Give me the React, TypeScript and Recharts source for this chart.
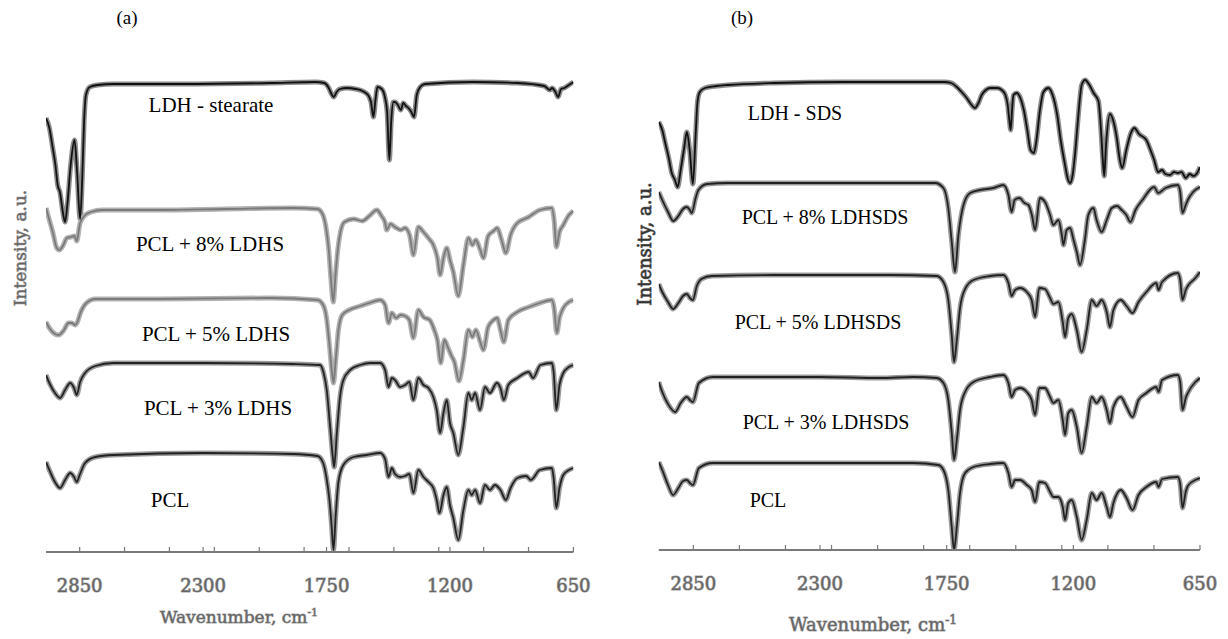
import React from "react";
import { LineChart, Line, XAxis, YAxis } from "recharts";

// FTIR spectra of PCL / LDH nanocomposites, two panels.
// points are [wavenumber cm-1, intensity a.u.].
type Pt = [number, number];

const A_LDH_STEARATE: Pt[] = [
  [3000, 434], [2985, 424], [2970, 404], [2958, 387], [2948, 367], [2938, 360],
  [2925, 340], [2915, 330], [2905, 347], [2890, 387], [2873, 412], [2862, 382],
  [2848, 333], [2838, 377], [2830, 432], [2822, 457], [2805, 465], [2770, 467],
  [2700, 468], [2400, 468], [2000, 469], [1800, 470], [1760, 469], [1740, 464],
  [1728, 458], [1718, 455], [1705, 460], [1690, 463], [1660, 464], [1620, 463],
  [1590, 461], [1565, 457], [1552, 450], [1541, 435], [1532, 452], [1523, 465],
  [1504, 463], [1490, 455], [1480, 440], [1470, 392], [1462, 430], [1452, 450],
  [1445, 450], [1432, 447], [1419, 442], [1408, 449], [1396, 446], [1385, 444],
  [1372, 440], [1360, 435], [1348, 457], [1333, 465], [1311, 468], [1100, 470],
  [900, 469], [780, 466], [755, 462], [745, 464], [730, 460], [718, 455],
  [705, 463], [690, 464], [670, 467], [650, 470],
];

const A_PCL_8: Pt[] = [
  [3000, 344], [2985, 332], [2970, 320], [2952, 304], [2940, 302], [2925, 306],
  [2907, 314], [2890, 315], [2873, 316], [2863, 311], [2848, 329], [2825, 337],
  [2800, 340], [2750, 342], [2500, 342], [2200, 343], [1900, 344], [1790, 343],
  [1768, 338], [1752, 324], [1740, 302], [1730, 272], [1720, 250], [1710, 277],
  [1700, 302], [1688, 320], [1670, 330], [1630, 333], [1590, 331], [1560, 336],
  [1526, 342], [1505, 336], [1490, 330], [1482, 322], [1465, 328], [1445, 325],
  [1420, 322], [1400, 324], [1380, 317], [1363, 297], [1341, 325], [1318, 320],
  [1296, 314], [1274, 307], [1256, 294], [1244, 277], [1229, 294], [1214, 304],
  [1200, 292], [1185, 280], [1163, 256], [1140, 287], [1118, 314], [1100, 307],
  [1085, 312], [1065, 302], [1051, 294], [1030, 316], [1006, 321], [990, 324],
  [970, 312], [951, 299], [930, 317], [900, 329], [849, 335], [800, 342],
  [746, 344], [736, 332], [726, 305], [712, 320], [695, 327], [670, 337],
  [650, 341],
];

const A_PCL_5: Pt[] = [
  [3000, 230], [2985, 224], [2960, 218], [2944, 217], [2920, 222], [2900, 229],
  [2885, 229], [2870, 227], [2860, 230], [2845, 240], [2820, 249], [2780, 253],
  [2500, 253], [2000, 254], [1790, 252], [1765, 247], [1750, 234], [1737, 207],
  [1727, 182], [1719, 169], [1709, 192], [1697, 222], [1680, 237], [1650, 242],
  [1600, 246], [1560, 249], [1511, 252], [1489, 247], [1474, 229], [1459, 239],
  [1440, 234], [1420, 237], [1400, 236], [1381, 232], [1363, 214], [1341, 242],
  [1318, 235], [1290, 232], [1270, 222], [1256, 212], [1241, 189], [1225, 212],
  [1210, 205], [1195, 197], [1180, 190], [1160, 171], [1140, 192], [1118, 222],
  [1100, 215], [1085, 222], [1065, 210], [1051, 202], [1030, 225], [1006, 232],
  [990, 234], [975, 222], [960, 210], [940, 232], [900, 240], [849, 245],
  [800, 249], [746, 252], [736, 244], [724, 219], [712, 234], [695, 244],
  [670, 250], [650, 252],
];

const A_PCL_3: Pt[] = [
  [3000, 177], [2985, 169], [2960, 159], [2937, 154], [2915, 162], [2892, 169],
  [2875, 164], [2863, 157], [2848, 170], [2826, 179], [2780, 186], [2700, 189],
  [2300, 189], [1900, 188], [1779, 187], [1764, 180], [1749, 162], [1734, 125],
  [1722, 95], [1716, 85], [1704, 119], [1690, 155], [1675, 172], [1645, 182],
  [1600, 187], [1556, 189], [1511, 189], [1489, 182], [1474, 165], [1459, 174],
  [1445, 172], [1422, 165], [1400, 167], [1381, 170], [1363, 152], [1341, 174],
  [1318, 167], [1296, 164], [1274, 155], [1259, 142], [1244, 119], [1229, 139],
  [1214, 152], [1200, 129], [1185, 119], [1163, 97], [1140, 125], [1118, 159],
  [1103, 152], [1088, 159], [1066, 142], [1044, 165], [1022, 159], [991, 169],
  [975, 164], [960, 152], [940, 167], [900, 174], [849, 180], [830, 174],
  [797, 187], [746, 189], [738, 180], [726, 142], [712, 167], [695, 179],
  [670, 185], [650, 187],
];

const A_PCL: Pt[] = [
  [3000, 90], [2985, 82], [2960, 70], [2937, 64], [2915, 72], [2892, 79],
  [2875, 75], [2863, 70], [2850, 77], [2826, 89], [2780, 95], [2700, 97],
  [2300, 99], [1900, 98], [1790, 96], [1765, 89], [1750, 74], [1737, 52],
  [1727, 25], [1719, 2], [1709, 37], [1697, 70], [1675, 87], [1630, 95],
  [1571, 97], [1511, 99], [1489, 93], [1474, 75], [1459, 84], [1445, 78],
  [1422, 75], [1400, 76], [1381, 78], [1363, 59], [1341, 82], [1318, 75],
  [1296, 70], [1274, 64], [1259, 52], [1247, 39], [1229, 57], [1214, 65],
  [1200, 47], [1185, 34], [1163, 12], [1140, 42], [1118, 62], [1103, 57],
  [1088, 62], [1066, 49], [1044, 67], [1022, 62], [1000, 67], [975, 62],
  [951, 52], [930, 64], [900, 74], [860, 76], [840, 72], [800, 82],
  [746, 84], [738, 74], [726, 44], [712, 64], [695, 77], [670, 82], [650, 84],
];

const B_LDH_SDS: Pt[] = [
  [3000, 428], [2985, 420], [2973, 408], [2955, 390], [2945, 378], [2930, 370],
  [2918, 363], [2905, 380], [2890, 402], [2878, 418], [2866, 400], [2852, 366],
  [2840, 415], [2832, 448], [2822, 458], [2800, 462], [2750, 464], [2700, 465],
  [2500, 467], [2200, 468], [1900, 468], [1760, 468], [1730, 467], [1706, 463],
  [1685, 458], [1663, 452], [1645, 446], [1627, 442], [1612, 447], [1598, 455],
  [1580, 460], [1562, 462], [1530, 462], [1511, 460], [1495, 455], [1485, 445],
  [1478, 430], [1472, 420], [1466, 440], [1460, 455], [1446, 457], [1430, 452],
  [1415, 440], [1400, 420], [1386, 400], [1371, 397], [1360, 410], [1345, 440],
  [1330, 458], [1308, 462], [1290, 455], [1270, 435], [1255, 410], [1236, 385],
  [1225, 372], [1214, 367], [1203, 375], [1193, 395], [1180, 430], [1170, 455],
  [1164, 465], [1149, 470], [1130, 465], [1112, 457], [1091, 449], [1080, 420],
  [1072, 390], [1066, 374], [1058, 405], [1041, 436], [1025, 428], [1012, 413],
  [998, 390], [988, 382], [970, 400], [950, 417], [935, 422], [915, 416],
  [883, 410], [865, 400], [849, 390], [832, 378], [815, 380], [800, 376],
  [780, 375], [763, 378], [746, 377], [730, 378], [712, 372], [695, 376],
  [678, 374], [665, 376], [650, 383],
];

const B_PCL_8: Pt[] = [
  [3000, 358], [2985, 350], [2960, 338], [2937, 329], [2915, 334], [2895, 341],
  [2879, 343], [2865, 340], [2857, 337], [2840, 352], [2828, 360], [2790, 366],
  [2700, 367], [2200, 367], [1800, 367], [1764, 362], [1743, 342], [1728, 308],
  [1714, 278], [1699, 315], [1677, 345], [1648, 357], [1605, 360], [1547, 362],
  [1504, 365], [1482, 355], [1468, 338], [1455, 350], [1434, 352], [1412, 347],
  [1395, 345], [1380, 335], [1366, 320], [1345, 352], [1323, 348], [1301, 335],
  [1287, 325], [1265, 330], [1250, 315], [1243, 305], [1229, 320], [1214, 322],
  [1199, 310], [1185, 298], [1171, 285], [1150, 310], [1135, 335], [1113, 342],
  [1099, 330], [1077, 318], [1055, 330], [1033, 342], [1010, 344], [990, 340],
  [970, 335], [952, 328], [930, 340], [900, 350], [849, 363], [832, 357],
  [800, 362], [746, 365], [736, 358], [726, 337], [712, 345], [703, 350],
  [680, 358], [650, 363],
];

const B_PCL_5: Pt[] = [
  [3000, 266], [2985, 258], [2960, 248], [2938, 241], [2915, 247], [2895, 254],
  [2878, 256], [2865, 252], [2852, 250], [2835, 264], [2815, 271], [2770, 274],
  [2500, 275], [2000, 275], [1793, 274], [1764, 268], [1743, 250], [1728, 215],
  [1718, 188], [1706, 210], [1692, 242], [1670, 261], [1634, 270], [1562, 274],
  [1504, 275], [1482, 267], [1468, 254], [1453, 260], [1431, 262], [1402, 258],
  [1381, 250], [1366, 233], [1348, 262], [1323, 261], [1301, 252], [1287, 246],
  [1265, 248], [1246, 228], [1236, 213], [1222, 232], [1207, 236], [1185, 220],
  [1164, 198], [1142, 220], [1120, 250], [1099, 244], [1077, 250], [1055, 238],
  [1041, 223], [1026, 240], [994, 250], [969, 244], [943, 237], [917, 248],
  [883, 258], [840, 267], [830, 260], [815, 268], [746, 277], [736, 270],
  [726, 250], [712, 260], [703, 264], [670, 272], [650, 278],
];

const B_PCL_3: Pt[] = [
  [3000, 168], [2985, 158], [2960, 146], [2929, 138], [2905, 147], [2878, 153],
  [2865, 150], [2852, 148], [2826, 167], [2766, 173], [2300, 173], [2039, 172],
  [1895, 173], [1793, 172], [1764, 167], [1743, 150], [1728, 117], [1718, 90],
  [1706, 110], [1692, 140], [1670, 158], [1634, 168], [1562, 173], [1504, 175],
  [1482, 167], [1468, 153], [1453, 160], [1431, 162], [1402, 158], [1381, 150],
  [1366, 135], [1348, 162], [1323, 162], [1301, 153], [1287, 147], [1265, 150],
  [1246, 130], [1236, 115], [1222, 137], [1207, 140], [1185, 123], [1164, 97],
  [1142, 123], [1120, 153], [1099, 147], [1077, 153], [1055, 140], [1041, 127],
  [1026, 143], [994, 153], [969, 143], [943, 133], [917, 150], [883, 157],
  [840, 163], [830, 158], [815, 170], [746, 175], [736, 168], [726, 140],
  [712, 152], [703, 157], [670, 168], [650, 172],
];

const B_PCL: Pt[] = [
  [3000, 88], [2985, 80], [2960, 65], [2938, 55], [2915, 62], [2895, 69],
  [2878, 70], [2865, 67], [2852, 65], [2826, 82], [2766, 87], [2300, 87],
  [1895, 87], [1786, 85], [1764, 80], [1743, 60], [1728, 23], [1718, 0],
  [1706, 23], [1692, 57], [1670, 77], [1634, 83], [1562, 86], [1504, 87],
  [1482, 77], [1468, 63], [1453, 70], [1431, 70], [1402, 65], [1381, 60],
  [1366, 48], [1348, 68], [1323, 67], [1301, 58], [1287, 53], [1265, 53],
  [1246, 43], [1236, 30], [1222, 47], [1207, 50], [1185, 33], [1164, 10],
  [1142, 30], [1120, 57], [1099, 50], [1077, 57], [1055, 43], [1041, 33],
  [1026, 47], [994, 60], [969, 52], [943, 40], [917, 55], [883, 63],
  [840, 68], [830, 63], [815, 71], [746, 73], [736, 66], [726, 42],
  [712, 58], [703, 64], [670, 70], [650, 72],
];

const TICKS = [2850, 2650, 2450, 2300, 2250, 2050, 1850, 1750, 1650, 1450, 1250, 1200, 1050, 850, 650];
const TICK_LABELS = [2850, 2300, 1750, 1200, 650];

const DARK = { halo: "#9a9a9a", core: "#222" };
const GREY = { halo: "#b2b2b2", core: "#7a7a7a" };
const BLACK = { halo: "#8c8c8c", core: "#111" };

const SERIF = "'Liberation Serif', 'Times New Roman', serif";
const BLUR = "'DejaVu Serif', serif";

const rows = (pts: Pt[]) => pts.map(([wn, v]) => ({ wn, v }));

function WnTick(props: any) {
  const { x, y, payload } = props;
  const show = TICK_LABELS.includes(payload.value);
  return (
    <g>
      <line x1={x} x2={x} y1={y - 5} y2={y} stroke="#777" strokeWidth={1.2} />
      {show && (
        <text
          x={x}
          y={y + 40}
          textAnchor="middle"
          style={{ fontFamily: BLUR, fontSize: 18 }}
          fill="#666"
          stroke="#aaa"
          strokeWidth={1.2}
          paintOrder="stroke"
        >
          {payload.value}
        </text>
      )}
    </g>
  );
}

type Series = { key: string; pts: Pt[]; look: { halo: string; core: string } };

function Panel({
  left,
  width,
  axisY,
  plotLeft,
  plotRight,
  series,
}: {
  left: number;
  width: number;
  axisY: number;
  plotLeft: number;
  plotRight: number;
  series: Series[];
}) {
  return (
    <div style={{ position: "absolute", left, top: 0 }}>
      <LineChart
        width={width}
        height={639}
        margin={{ top: axisY - 480, left: plotLeft - left, right: left + width - plotRight, bottom: 0 }}
      >
        <XAxis
          type="number"
          dataKey="wn"
          domain={[650, 3000]}
          reversed
          ticks={TICKS}
          interval={0}
          tickSize={0}
          tickMargin={0}
          tickLine={false}
          tick={<WnTick />}
          height={639 - axisY}
          axisLine={{ stroke: "#7a7a7a", strokeWidth: 2 }}
          allowDataOverflow
        />
        <YAxis type="number" domain={[0, 480]} hide allowDataOverflow />
        {series.map((s) => (
          <Line
            key={s.key + "-halo"}
            data={rows(s.pts)}
            dataKey="v"
            type="monotone"
            stroke={s.look.halo}
            strokeWidth={5}
            dot={false}
            activeDot={false}
            isAnimationActive={false}
          />
        ))}
        {series.map((s) => (
          <Line
            key={s.key + "-core"}
            data={rows(s.pts)}
            dataKey="v"
            type="monotone"
            stroke={s.look.core}
            strokeWidth={1.8}
            dot={false}
            activeDot={false}
            isAnimationActive={false}
          />
        ))}
      </LineChart>
    </div>
  );
}

export default function App() {
  return (
    <div style={{ position: "absolute", left: 0, top: 0, width: 1228, height: 639, background: "#fff" }}>
      <Panel
        left={0}
        width={610}
        axisY={552}
        plotLeft={46}
        plotRight={573.4}
        series={[
          { key: "a-ldh", pts: A_LDH_STEARATE, look: BLACK },
          { key: "a-8", pts: A_PCL_8, look: GREY },
          { key: "a-5", pts: A_PCL_5, look: GREY },
          { key: "a-3", pts: A_PCL_3, look: DARK },
          { key: "a-0", pts: A_PCL, look: DARK },
        ]}
      />
      <Panel
        left={614}
        width={614}
        axisY={550}
        plotLeft={658.8}
        plotRight={1200}
        series={[
          { key: "b-ldh", pts: B_LDH_SDS, look: BLACK },
          { key: "b-8", pts: B_PCL_8, look: DARK },
          { key: "b-5", pts: B_PCL_5, look: DARK },
          { key: "b-3", pts: B_PCL_3, look: DARK },
          { key: "b-0", pts: B_PCL, look: DARK },
        ]}
      />
      <svg
        width={1228}
        height={639}
        style={{ position: "absolute", left: 0, top: 0, pointerEvents: "none" }}
      >
        <g style={{ fontFamily: SERIF, fontSize: 19 }} fill="#000" textAnchor="middle">
          <text x={127} y={24}>(a)</text>
          <text x={742} y={24}>(b)</text>
        </g>
        <g style={{ fontFamily: SERIF, fontSize: 21, whiteSpace: "pre" }} fill="#000" textAnchor="middle">
          <text x={211} y={112}>LDH - stearate</text>
          <text x={210} y={251}>PCL + 8% LDHS</text>
          <text x={216} y={341}>PCL + 5% LDHS</text>
          <text x={218} y={415}>PCL + 3% LDHS</text>
          <text x={170} y={507}>PCL</text>
        </g>
        <g style={{ fontFamily: SERIF, fontSize: 20, whiteSpace: "pre" }} fill="#000" textAnchor="middle">
          <text x={795} y={120}>LDH - SDS</text>
          <text x={825} y={224}>PCL + 8%  LDHSDS</text>
          <text x={818} y={329}>PCL + 5% LDHSDS</text>
          <text x={826} y={429}>PCL + 3% LDHSDS</text>
          <text x={768} y={507}>PCL</text>
        </g>
        <g style={{ fontFamily: BLUR }} fill="#666" stroke="#aaa" strokeWidth={1} paintOrder="stroke" textAnchor="middle">
          <text x={239} y={623} style={{ fontSize: 17 }}>
            Wavenumber, cm<tspan dy={-7} style={{ fontSize: 11 }}>-1</tspan>
          </text>
          <text x={873} y={631} style={{ fontSize: 18 }}>
            Wavenumber, cm<tspan dy={-7} style={{ fontSize: 12 }}>-1</tspan>
          </text>
          <text x={20} y={248} style={{ fontSize: 17 }} transform="rotate(-90 20 248)" dy={6}>
            Intensity, a.u.
          </text>
          <text
            x={645}
            y={244}
            style={{ fontSize: 18 }}
            fill="#333"
            stroke="#777"
            transform="rotate(-90 645 244)"
            dy={6}
          >
            Intensity, a.u.
          </text>
        </g>
      </svg>
    </div>
  );
}
